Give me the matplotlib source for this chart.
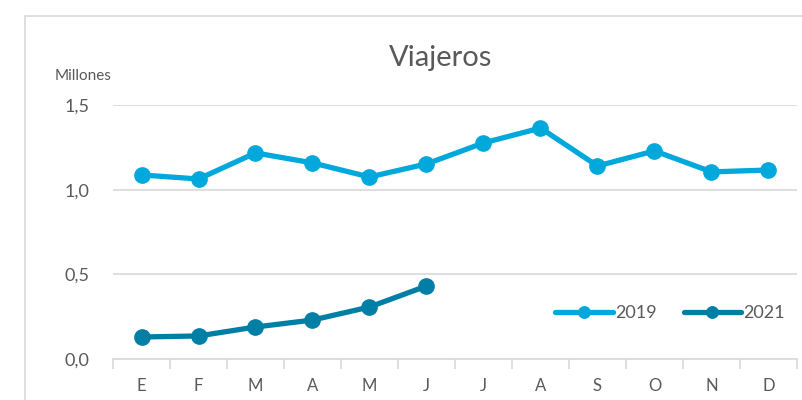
import matplotlib.pyplot as plt
import numpy as np
from matplotlib.patches import Rectangle

months = ['E', 'F', 'M', 'A', 'M', 'J', 'J', 'A', 'S', 'O', 'N', 'D']
v2019 = [1.087, 1.063, 1.217, 1.158, 1.075, 1.152, 1.276, 1.364, 1.140, 1.229, 1.105, 1.116]
v2021 = [0.130, 0.136, 0.189, 0.230, 0.307, 0.431]
yticks = [0.0, 0.5, 1.0, 1.5]
ytick_labels = ['0,0', '0,5', '1,0', '1,5']

c2019 = '#00A8DB'
c2021 = '#007FA6'
grey_txt = '#595959'

plt.rcParams['font.family'] = ['Lato', 'DejaVu Sans']

fig = plt.figure(figsize=(8.02, 4.0), dpi=100)
# chart frame
fig.patches.append(Rectangle((25 / 802, -0.1), 1.0, 1 - 16 / 400 + 0.1,
                             transform=fig.transFigure, fill=False,
                             edgecolor='#D9D9D9', linewidth=1.2))

ax = fig.add_axes([113 / 802, 1 - 359 / 400, 684 / 802, 254 / 400])
x = np.arange(len(months))
ax.plot(x, v2019, color=c2019, lw=3.8, marker='o', ms=11, label='2019',
        solid_capstyle='round', zorder=3, clip_on=False)
ax.plot(x[:len(v2021)], v2021, color=c2021, lw=3.8, marker='o', ms=11, label='2021',
        solid_capstyle='round', zorder=3, clip_on=False)

ax.set_xlim(-0.5, len(months) - 0.5)
ax.set_ylim(0, 1.5)
ax.set_yticks(yticks)
ax.set_yticklabels(ytick_labels)
ax.set_xticks(x)
ax.set_xticklabels(months)
ax.set_xticks(np.arange(-0.5, len(months)), minor=True)
ax.tick_params(axis='x', which='major', length=0, pad=14, labelsize=12, labelcolor=grey_txt)
ax.tick_params(axis='x', which='minor', length=7, color='#D9D9D9', width=1.2)
ax.tick_params(axis='y', length=0, pad=17, labelsize=13, labelcolor=grey_txt)
for s in ['top', 'right', 'left']:
    ax.spines[s].set_visible(False)
ax.spines['bottom'].set_color('#D9D9D9')
ax.spines['bottom'].set_linewidth(1.2)
ax.grid(axis='y', color='#D9D9D9', lw=1.2)
ax.set_axisbelow(True)

fig.text(441 / 802, 1 - 58 / 400, 'Viajeros', ha='center', va='center',
         fontsize=21, color=grey_txt)
fig.text(55 / 802, 1 - 76 / 400, 'Millones', ha='left', va='center',
         fontsize=11, color=grey_txt)

ax.legend(loc='center', bbox_to_anchor=(670 / 802, 1 - 313 / 400),
          bbox_transform=fig.transFigure, ncol=2, frameon=False,
          fontsize=13, labelcolor=grey_txt, handlelength=3.2,
          handletextpad=0.1, columnspacing=1.5, markerscale=0.75)

fig.savefig('out.png', dpi=100)
